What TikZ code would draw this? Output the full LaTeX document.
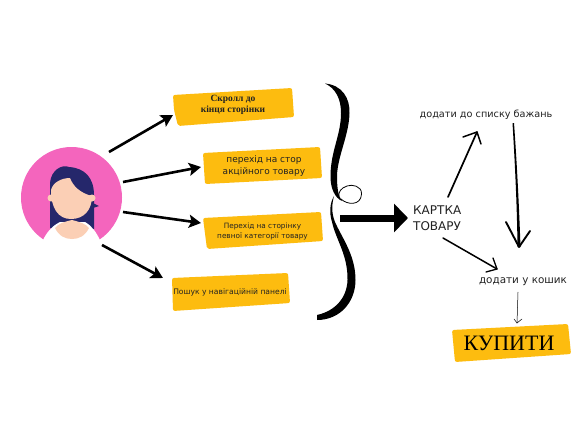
\documentclass[tikz,border=0pt]{standalone}
\usepackage{fontspec}
\setmainfont{DejaVu Sans}
\newfontfamily\serifcyr{Liberation Serif}
\usetikzlibrary{arrows.meta}
\definecolor{boxyellow}{HTML}{FDBC0F}
\definecolor{avatarpink}{HTML}{F465BD}
\definecolor{hairnavy}{HTML}{25276B}
\definecolor{skinpeach}{HTML}{FBCFB5}
\definecolor{inkdark}{HTML}{222222}
\tikzset{
  patch/.style={fill=boxyellow,draw=none,rounded corners=2pt},
  boxtext/.style={text=inkdark,align=center,inner sep=0pt},
  plaintext/.style={text=inkdark,inner sep=0pt},
  userarrow/.style={draw=black,line width=2.6pt,-{Stealth[length=12pt,width=13pt,inset=2.5pt]}},
  handline/.style={draw=black,line cap=round,line join=round},
}
\begin{document}
\begin{tikzpicture}[x=1pt,y=-1pt]
\useasboundingbox (0,0) rectangle (577,433);
\fill[white] (0,0) rectangle (577,433);

% avatar
\fill[avatarpink] (71.5,197.5) circle (50.5);
\fill[hairnavy] (50,228) -- (50,183) .. controls (51,170) and (62,164) .. (69,167)
  .. controls (85,168) and (94,178) .. (94,195) -- (94,229) -- (72,234) -- cycle;
\fill[hairnavy] (93,203) -- (99,206) -- (93,208) -- cycle;
\fill[skinpeach] (51,198) circle (3.5);
\fill[skinpeach] (92,198) circle (3.5);
\fill[skinpeach] (51,190) .. controls (53,182) and (62,178) .. (70,178)
  .. controls (73,186) and (80,193) .. (92,196)
  .. controls (92,210) and (84,219) .. (71,219)
  .. controls (58,219) and (51,208) .. (51,190) -- cycle;
\fill[white] (43,240) .. controls (47,232) and (52,226) .. (60,222)
  -- (85,222) .. controls (92,226) and (96,232) .. (100,240) -- (100,250) -- (43,250) -- cycle;
\fill[skinpeach] (55,228) .. controls (58,224) and (63,222) .. (72,220)
  .. controls (80,222) and (86,224) .. (89,228)
  .. controls (85,236) and (79,239) .. (72,239)
  .. controls (65,239) and (59,236) .. (55,228) -- cycle;
\coordinate (avatarA) at (109,152);
\coordinate (avatarB) at (123,182);
\coordinate (avatarC) at (123,212);
\coordinate (avatarD) at (102,245);

% yellow patches
\fill[patch] (173,95) -- (292,88) -- (294,117) -- (178,126) -- (174,110) -- cycle;
\fill[patch] (203,153) -- (320,147) -- (322,178) -- (205,184) -- cycle;
\fill[patch] (203,218) -- (321,212) -- (323,241) -- (207,249) -- cycle;
\fill[patch] (172,278) -- (288,273) -- (290,303) -- (173,311) -- cycle;
\fill[patch] (452,330) -- (568,324) -- (571,354) -- (455,362) -- cycle;

% texts
\node[boxtext,font=\serifcyr\bfseries\fontsize{9.5}{11}\selectfont] (scroll) at (233,104.5) {Скролл до\\кінця сторінки};
\node[boxtext,font=\fontsize{9}{12}\selectfont] (promo) at (264,166) {перехід на стор\\акційного товару};
\node[boxtext,font=\fontsize{7.3}{10}\selectfont] (category) at (262.5,231) {Перехід на сторінку\\певної категорії товару};
\node[boxtext,font=\fontsize{7.6}{10}\selectfont] (search) at (230,292) {Пошук у навігаційній панелі};
\node[plaintext,font=\fontsize{9.7}{11}\selectfont] (wish) at (486,115) {додати до списку бажань};
\node[plaintext,font=\fontsize{10.4}{12}\selectfont] (cart) at (523,282) {додати у кошик};
\node[plaintext,align=left,anchor=west,font=\fontsize{12}{16}\selectfont] (card) at (413,218) {КАРТКА\\ТОВАРУ};
\node[plaintext,text=black,font=\serifcyr\fontsize{22}{24}\selectfont] (buy) at (509,343) {КУПИТИ};

% arrows from the user
\coordinate (scrollIn) at (173,115);
\coordinate (promoIn) at (201,167);
\coordinate (categoryIn) at (201,223);
\coordinate (searchIn) at (163,278);
\draw[userarrow] (avatarA) -- (scrollIn);
\draw[userarrow] (avatarB) -- (promoIn);
\draw[userarrow] (avatarC) -- (categoryIn);
\draw[userarrow] (avatarD) -- (searchIn);

% curly brace
\fill[black] (325,83.5) .. controls (342,85) and (350,98) .. (349.5,113)
  .. controls (349,135) and (338,155) .. (337,175)
  .. controls (337,188) and (338,196) .. (342,201)
  .. controls (335,198) and (330,188) .. (330.5,175)
  .. controls (331,150) and (341,135) .. (341,113)
  .. controls (341,98) and (335,88) .. (325,83.5) -- cycle;
\draw[handline,line width=0.8pt] (341,199) .. controls (347,205) and (361,206) .. (361.5,194)
  .. controls (362,186) and (352,184) .. (347,186) .. controls (341,188) and (338,192) .. (339,197);
\fill[black] (334,196) .. controls (330,203) and (329,212) .. (332,222)
  .. controls (336,240) and (348,255) .. (347.5,280)
  .. controls (347,298) and (335,311) .. (317,315)
  -- (317,320) .. controls (340,320) and (355.5,302) .. (355.5,280)
  .. controls (355.5,255) and (342,238) .. (335,222)
  .. controls (331,212) and (332,204) .. (334,196) -- cycle;

% big arrow to the card
\coordinate (braceOut) at (340,218);
\coordinate (cardIn) at (408,218);
\draw[black,line width=7pt,-{Triangle[length=14pt,width=28pt]}] (braceOut) -- (cardIn);

% hand-drawn arrows
\coordinate (cardUp) at (448,197);
\coordinate (wishIn) at (477,132);
\draw[handline,line width=1.7pt] (cardUp) -- (wishIn);
\draw[handline,line width=1.5pt] (463,137) -- (wishIn) -- (481,144);

\coordinate (wishOut) at (513,123);
\coordinate (cartIn) at (519,247);
\fill[black] (512.5,123) .. controls (515,165) and (517,205) .. (517.5,247) -- (520.5,247)
  .. controls (519,205) and (517,165) .. (514,123) -- cycle;
\draw[handline,line width=1.9pt] (506,222) -- (cartIn) -- (530,231);

\coordinate (cardDown) at (443,238);
\coordinate (cartTop) at (497,269);
\draw[handline,line width=1.5pt] (cardDown) -- (cartTop);
\draw[handline,line width=1.3pt] (493,258) -- (cartTop) -- (486,272);

\coordinate (cartOut) at (518,292);
\coordinate (buyIn) at (517,323);
\draw[handline,line width=0.5pt] (cartOut) -- (buyIn);
\draw[handline,line width=0.5pt] (514,319) -- (buyIn) -- (522,319);
\end{tikzpicture}
\end{document}
